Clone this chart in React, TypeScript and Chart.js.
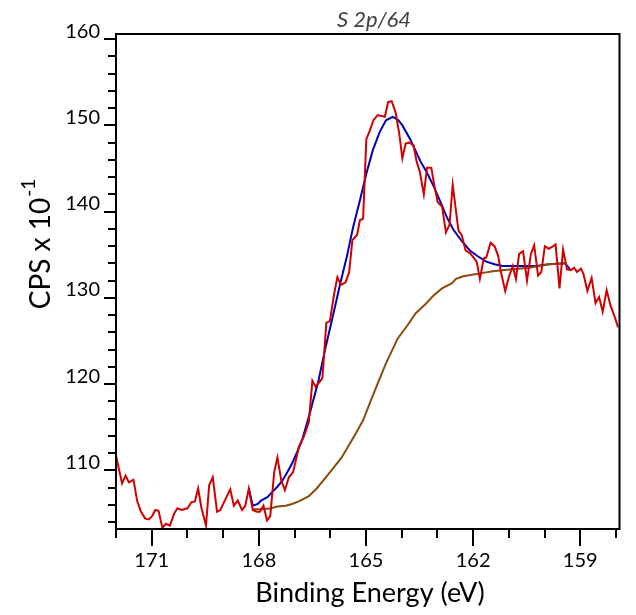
import React, { useEffect, useRef } from 'react';
import { Chart, registerables } from 'chart.js';

Chart.register(...registerables);

const rawEnergy = [172.0, 171.83, 171.73, 171.64, 171.51, 171.41, 171.30, 171.18, 171.08, 170.99, 170.90, 170.81, 170.70, 170.60, 170.49, 170.37, 170.28, 170.16, 170.00, 169.89, 169.79, 169.70, 169.61, 169.48, 169.39, 169.29, 169.17, 169.08, 168.94, 168.80, 168.70, 168.59, 168.47, 168.38, 168.28, 168.17, 168.06, 167.97, 167.87, 167.77, 167.68, 167.57, 167.48, 167.37, 167.27, 167.16, 167.04, 166.95, 166.88, 166.74, 166.60, 166.50, 166.41, 166.31, 166.22, 166.11, 166.01, 165.89, 165.80, 165.70, 165.57, 165.47, 165.38, 165.25, 165.17, 165.08, 164.99, 164.90, 164.79, 164.67, 164.56, 164.47, 164.38, 164.28, 164.17, 164.07, 163.98, 163.89, 163.79, 163.67, 163.58, 163.49, 163.38, 163.29, 163.17, 163.08, 162.99, 162.87, 162.76, 162.66, 162.57, 162.41, 162.32, 162.21, 162.09, 161.99, 161.90, 161.81, 161.70, 161.63, 161.51, 161.40, 161.30, 161.21, 161.10, 161.00, 160.89, 160.80, 160.71, 160.60, 160.49, 160.38, 160.29, 160.18, 160.09, 159.99, 159.88, 159.79, 159.69, 159.58, 159.48, 159.37, 159.26, 159.17, 159.09, 158.98, 158.91, 158.80, 158.68, 158.57, 158.47, 158.37, 158.26, 158.15, 158.05, 157.94];
const rawCounts = [111.7, 108.5, 109.4, 108.6, 108.9, 106.5, 105.2, 104.4, 104.3, 104.7, 105.4, 105.3, 103.35, 103.8, 103.6, 105.0, 105.6, 105.4, 105.6, 106.3, 106.4, 107.9, 105.7, 103.6, 108.3, 109.2, 105.2, 105.4, 106.6, 107.8, 105.9, 106.5, 105.4, 105.9, 107.9, 105.4, 105.2, 105.2, 105.9, 104.2, 104.7, 109.8, 111.5, 108.8, 107.7, 109.2, 109.8, 111.4, 112.7, 113.9, 115.6, 120.4, 119.7, 120.2, 120.7, 127.1, 127.3, 130.5, 132.4, 131.5, 131.8, 133.0, 136.7, 137.3, 139.0, 139.2, 148.4, 149.3, 150.6, 151.2, 151.1, 151.0, 152.7, 152.8, 151.5, 149.1, 146.2, 147.9, 148.0, 147.7, 145.8, 144.6, 142.0, 145.1, 145.1, 142.9, 141.1, 140.6, 137.6, 138.5, 143.1, 137.8, 137.3, 135.5, 135.2, 134.7, 134.2, 132.2, 134.6, 134.7, 136.4, 136.0, 134.9, 132.8, 130.8, 132.4, 133.7, 132.2, 135.1, 135.4, 132.0, 135.1, 136.1, 132.6, 133.0, 136.0, 135.7, 135.9, 136.2, 131.1, 135.6, 133.3, 133.2, 133.5, 133.0, 133.4, 132.8, 130.8, 132.3, 129.4, 130.1, 128.4, 130.9, 129.1, 128.0, 126.6];

const envelopeEnergy = [168.28, 168.17, 168.03, 167.94, 167.76, 167.62, 167.48, 167.34, 167.20, 167.07, 166.93, 166.79, 166.60, 166.33, 166.14, 165.91, 165.73, 165.54, 165.36, 165.17, 164.99, 164.81, 164.62, 164.44, 164.25, 164.09, 163.98, 163.75, 163.47, 163.29, 163.10, 162.92, 162.73, 162.55, 162.32, 162.09, 161.86, 161.63, 161.40, 161.17, 160.71, 160.24, 159.88, 159.53, 159.42, 159.26];
const envelopeCounts = [107.9, 105.9, 106.1, 106.5, 106.9, 107.5, 108.1, 108.8, 109.8, 110.8, 112.1, 113.5, 116.2, 120.4, 124.1, 128.2, 131.5, 134.7, 138.2, 141.3, 144.4, 147.1, 149.2, 150.6, 151.0, 150.6, 150.0, 148.3, 145.8, 144.5, 142.9, 141.2, 139.3, 137.9, 136.6, 135.5, 134.8, 134.2, 133.9, 133.7, 133.7, 133.7, 133.9, 134.0, 134.0, 133.2];

const backgroundEnergy = [168.17, 167.87, 167.66, 167.48, 167.25, 167.07, 166.88, 166.60, 166.38, 166.10, 165.68, 165.31, 165.08, 164.90, 164.67, 164.44, 164.11, 163.84, 163.61, 163.33, 163.10, 162.87, 162.59, 162.48, 162.27, 161.99, 161.72, 161.44, 160.98, 160.43, 159.88, 159.51, 159.42];
const backgroundCounts = [105.5, 105.5, 105.6, 105.8, 105.9, 106.1, 106.4, 107.0, 107.9, 109.3, 111.5, 114.1, 115.8, 117.7, 120.1, 122.4, 125.3, 126.8, 128.2, 129.3, 130.3, 131.1, 131.7, 132.2, 132.5, 132.7, 132.9, 133.1, 133.3, 133.5, 133.9, 134.0, 134.05];

const xTickLabels = [171, 168, 165, 162, 159];
const yTickLabels = [110, 120, 130, 140, 150, 160];
const chartTitle = 'S 2p/64';
const xAxisTitle = 'Binding Energy (eV)';
const yAxisTitle = 'CPS x 10';
const yAxisTitleSup = '-1';

const FONT = 'Lato, "Open Sans", sans-serif';

const zip = (xs: number[], ys: number[]) => xs.map((x, i) => ({ x, y: ys[i] }));
const isMember = (arr: number[], v: number) => arr.some((a) => Math.abs(a - v) < 1e-6);

const decorPlugin = {
  id: 'decor',
  afterDraw(chart: any) {
    const { ctx, chartArea: a, scales } = chart;
    ctx.save();
    ctx.strokeStyle = '#000';
    ctx.lineWidth = 2;
    ctx.lineCap = 'butt';
    ctx.strokeRect(a.left, a.top, a.right - a.left, a.bottom - a.top);

    const ys = scales.y;
    ys.ticks.forEach((t: any) => {
      const p = Math.round(ys.getPixelForValue(t.value));
      const len = isMember(yTickLabels, t.value) ? 12 : 8;
      ctx.beginPath();
      ctx.moveTo(a.left - len, p);
      ctx.lineTo(a.left, p);
      ctx.stroke();
    });
    const xs = scales.x;
    xs.ticks.forEach((t: any) => {
      const p = Math.round(xs.getPixelForValue(t.value));
      const len = isMember(xTickLabels, t.value) ? 17 : 9;
      ctx.beginPath();
      ctx.moveTo(p, a.bottom);
      ctx.lineTo(p, a.bottom + len);
      ctx.stroke();
    });

    // chart title
    ctx.fillStyle = '#404040';
    ctx.font = `italic 22px ${FONT}`;
    ctx.textAlign = 'center';
    ctx.textBaseline = 'alphabetic';
    ctx.fillText(chartTitle, 374, 27);

    // x axis title
    ctx.fillStyle = '#000';
    ctx.font = `27px ${FONT}`;
    ctx.fillText(xAxisTitle, 370, 602);

    // y axis title with superscript
    ctx.translate(50, 244);
    ctx.rotate(-Math.PI / 2);
    ctx.font = `28px ${FONT}`;
    const mainW = ctx.measureText(yAxisTitle).width;
    ctx.font = `19px ${FONT}`;
    const supW = ctx.measureText(yAxisTitleSup).width;
    const total = mainW + supW + 1;
    ctx.textAlign = 'left';
    ctx.font = `28px ${FONT}`;
    ctx.fillText(yAxisTitle, -total / 2, 0);
    ctx.font = `19px ${FONT}`;
    ctx.fillText(yAxisTitleSup, -total / 2 + mainW + 1, -15);
    ctx.restore();
  },
};

export default function App() {
  const ref = useRef<HTMLCanvasElement>(null);
  useEffect(() => {
    document.body.style.margin = '0';
    document.body.style.overflow = 'hidden';
    const canvas = ref.current;
    if (!canvas) return;
    Chart.defaults.font.family = FONT;
    const chart = new Chart(canvas, {
      type: 'line',
      data: {
        datasets: [
          { data: zip(rawEnergy, rawCounts), borderColor: '#d00000', borderWidth: 2, pointRadius: 0, fill: false, order: 0 },
          { data: zip(backgroundEnergy, backgroundCounts), borderColor: '#8c4a0c', borderWidth: 2, pointRadius: 0, fill: false, order: 1 },
          { data: zip(envelopeEnergy, envelopeCounts), borderColor: '#0000b4', borderWidth: 2, pointRadius: 0, fill: false, order: 2 },
        ],
      },
      options: {
        responsive: false,
        animation: false,
        events: [],
        layout: { padding: { left: 0, right: 11, top: 34, bottom: 0 } },
        plugins: { legend: { display: false }, tooltip: { enabled: false }, title: { display: false } },
        elements: { point: { radius: 0 }, line: { tension: 0 } },
        scales: {
          x: {
            type: 'linear',
            reverse: true,
            min: 157.9,
            max: 172,
            afterFit: (s: any) => { s.height = 86; },
            grid: { display: false, drawTicks: false },
            border: { display: false },
            ticks: {
              stepSize: 1,
              includeBounds: false,
              autoSkip: false,
              maxRotation: 0,
              minRotation: 0,
              padding: 20,
              color: '#000',
              font: { size: 20, family: FONT },
              callback: (v: any) => (isMember(xTickLabels, Number(v)) ? String(Math.round(Number(v))) : ''),
            },
          },
          y: {
            type: 'linear',
            min: 103.2,
            max: 160.6,
            afterFit: (s: any) => { s.width = 116; },
            grid: { display: false, drawTicks: false },
            border: { display: false },
            ticks: {
              stepSize: 2,
              includeBounds: false,
              autoSkip: false,
              padding: 16,
              labelOffset: -8,
              color: '#000',
              font: { size: 20, family: FONT },
              callback: (v: any) => (isMember(yTickLabels, Number(v)) ? String(Math.round(Number(v))) : ''),
            },
          },
        },
      },
      plugins: [decorPlugin],
    } as any);
    if ((document as any).fonts && (document as any).fonts.load) {
      Promise.all([
        (document as any).fonts.load(`20px Lato`),
        (document as any).fonts.load(`italic 20px Lato`),
      ]).then(() => chart.update(), () => {});
    }
    return () => chart.destroy();
  }, []);
  return <canvas ref={ref} width={636} height={615} style={{ display: 'block' }} />;
}
